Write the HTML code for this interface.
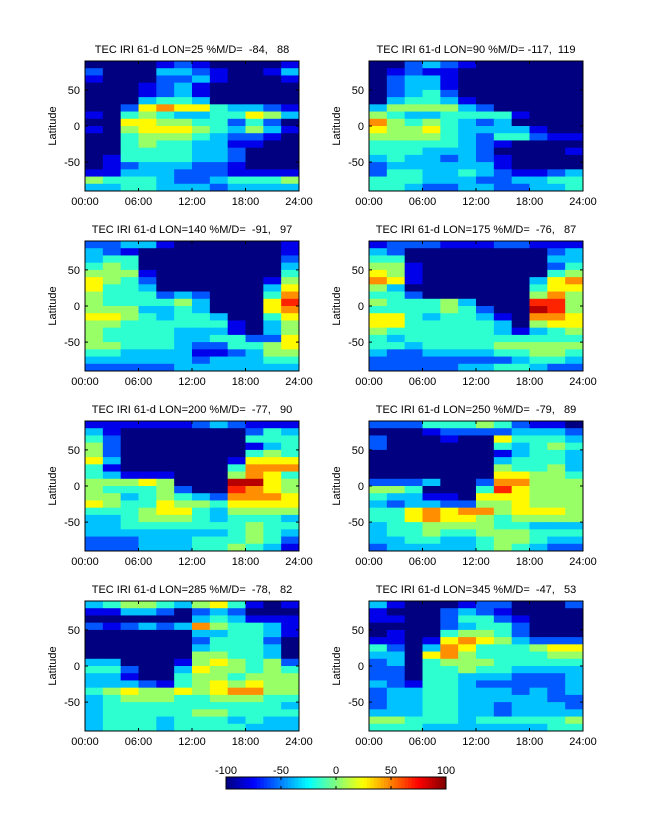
<!DOCTYPE html>
<html><head><meta charset="utf-8"><style>
html,body{margin:0;padding:0;background:#fff;}
svg{display:block;font-family:"Liberation Sans",sans-serif;}
text.pre{white-space:pre;}
</style></head><body>
<svg id="fig" width="647" height="822" viewBox="0 0 647 822"></svg>
<script>
// Panel metadata
const panelTitles = ["TEC IRI 61-d LON=25 %M/D=  -84,   88","TEC IRI 61-d LON=90 %M/D= -117,  119","TEC IRI 61-d LON=140 %M/D=  -91,   97","TEC IRI 61-d LON=175 %M/D=  -76,   87","TEC IRI 61-d LON=200 %M/D=  -77,   90","TEC IRI 61-d LON=250 %M/D=  -79,   89","TEC IRI 61-d LON=285 %M/D=  -78,   82","TEC IRI 61-d LON=345 %M/D=  -47,   53"];
const xTickLabels = ["00:00","06:00","12:00","18:00","24:00"];
const xTickValues = [0,6,12,18,24];
const yTickValues = [50,0,-50];
const cbTickValues = [-100,-50,0,50,100];
// Value levels: each digit d -> %M/D value -100+21*d ; rows from 90N (top) to 90S, 12 two-hour columns
const p1 = ["000012100001","200033210013","100022310001","000123100000","000123100000","000344300000","002676643321","104543344653","006655442420","105666543531","004555432210","004544331100","004444332000","014444332000","012333221000","113332221111","544432234445","334433323333"];
const p2 = ["002321000000","012110000000","023310000000","023310000000","023420000000","034431000000","355553200000","543344441000","754543230000","655643333100","555543244211","444443210000","444333200001","343323210000","233333310000","244334321123","444333223344","443223322334"];
const p3 = ["223310000001","321000000001","344000000002","454000000003","555100000004","654200000015","644300000036","544423200047","544445300068","555334300067","665434430046","554444441035","544443331035","544443344226","554443224456","443333112355","333333233344","222223333333"];
const p4 = ["122211122111","320000000023","440000000033","551000000024","651000000045","761000000367","530000000466","442000000575","544453000885","444454200985","664344310776","664444430566","544444431345","434444444444","443444455555","322333344554","222222223443","222223344322"];
const p5 = ["111111232111","310000000243","420000000444","520000000134","520000000454","630000001666","410000004777","431110005764","555650009965","544452008765","553454327776","654465546666","444566435555","334555434443","334444444544","333333334543","222333444542","222333445431"];
const p6 = ["222444542110","000122223332","200010064443","200000043454","000000013443","000000034443","000000054453","000000066554","222300277555","554000486555","433110666555","323322556555","446767756665","446766545555","344555544333","344544555444","334433455433","233333454322"];
const p7 = ["345543564101","113320232000","000000343111","212323754431","000000334431","000000244420","000000344430","000000554430","330001565452","442003655454","331004554555","333214565655","456556567755","345554455544","344444444443","344444554444","344434443433","344434444333"];
const p8 = ["310001220002","100023210000","110024421000","000023442000","010045542000","110167653222","420376444566","330675444455","230455544444","220445443333","220443332223","321443222223","233443332323","233443333322","233443323332","333443323333","554443444445","444333333344"];
const panelData = [p1,p2,p3,p4,p5,p6,p7,p8];

const NS="http://www.w3.org/2000/svg";
const svg=document.getElementById('fig');
function mk(tag,attrs,parent){const e=document.createElementNS(NS,tag);for(const k in attrs)e.setAttribute(k,attrs[k]);(parent||svg).appendChild(e);return e;}
function jet(v){const t=Math.max(0,Math.min(1,(v+100)/200));
 const f=x=>Math.max(0,Math.min(1,x));
 const r=f(Math.min(4*t-1.5,-4*t+4.5)),g=f(Math.min(4*t-0.5,-4*t+3.5)),b=f(Math.min(4*t+0.5,-4*t+2.5));
 return `rgb(${Math.round(r*255)},${Math.round(g*255)},${Math.round(b*255)})`;}
const colX=[85,369], rowY=[61,241,421,601], PW=214, PH=130;
panelData.forEach((rows,pi)=>{
 const x0=colX[pi%2], y0=rowY[Math.floor(pi/2)];
 const xs=h=>x0+h/24*PW, ys=lat=>y0+(90-lat)/180*PH;
 const g=mk('g',{});
 
 
 const t=mk('text',{x:x0+PW/2,y:y0-8,'font-size':'11','text-anchor':'middle','class':'pre'},g);
 t.textContent=panelTitles[pi];
 
 
 const nR=rows.length;
 rows.forEach((row,ri)=>{
  for(let c=0;c<row.length;c++){
   const val=-100+21*Number(row[c]);
   const latTop=90-ri*180/nR, latBot=90-(ri+1)*180/nR;
   const r=mk('rect',{x:xs(c*2),y:ys(latTop),width:xs(c*2+2)-xs(c*2)+0.4,height:ys(latBot)-ys(latTop)+0.4,fill:jet(val)},g);
   
   
  }
 });
 const fr=mk('rect',{x:x0,y:y0,width:PW,height:PH,fill:'none',stroke:'#000','stroke-width':'1'},g);
 
 
 xTickValues.forEach((h,i)=>{
  mk('line',{x1:xs(h),x2:xs(h),y1:y0+PH,y2:y0+PH-3,stroke:'#000'},g);
  mk('line',{x1:xs(h),x2:xs(h),y1:y0,y2:y0+3,stroke:'#000'},g);
  const l=mk('text',{x:xs(h),y:y0+PH+14,'font-size':'11','text-anchor':'middle'},g);
  l.textContent=xTickLabels[i];
  
  
 });
 yTickValues.forEach(v=>{
  mk('line',{x1:x0,x2:x0+3,y1:ys(v),y2:ys(v),stroke:'#000'},g);
  mk('line',{x1:x0+PW,x2:x0+PW-3,y1:ys(v),y2:ys(v),stroke:'#000'},g);
  const l=mk('text',{x:x0-5,y:ys(v)+4,'font-size':'11','text-anchor':'end'},g);
  l.textContent=String(v);
  
  
 });
 const yl=mk('text',{x:0,y:0,'font-size':'11','text-anchor':'middle',transform:`translate(${x0-29},${y0+PH/2}) rotate(-90)`},g);
 yl.textContent='Latitude';
 
 
});
// colorbar
const cbX=226, cbW=220, cbY=777, cbH=12;
const cb=mk('g',{});


const nSteps=64;
for(let i=0;i<nSteps;i++){
 const v=-100+(i+0.5)*200/nSteps;
 mk('rect',{x:cbX+i*cbW/nSteps,y:cbY,width:cbW/nSteps+0.4,height:cbH,fill:jet(v)},cb);
}
mk('rect',{x:cbX,y:cbY,width:cbW,height:cbH,fill:'none',stroke:'#000'},cb);
cbTickValues.forEach(v=>{
 const x=cbX+(v+100)/200*cbW;
 mk('line',{x1:x,x2:x,y1:cbY,y2:cbY+3,stroke:'#000'},cb);
 mk('line',{x1:x,x2:x,y1:cbY+cbH,y2:cbY+cbH-3,stroke:'#000'},cb);
 const l=mk('text',{x:x,y:cbY-3,'font-size':'11','text-anchor':'middle'},cb);
 l.textContent=String(v);
 
 
});
</script>
</body></html>
